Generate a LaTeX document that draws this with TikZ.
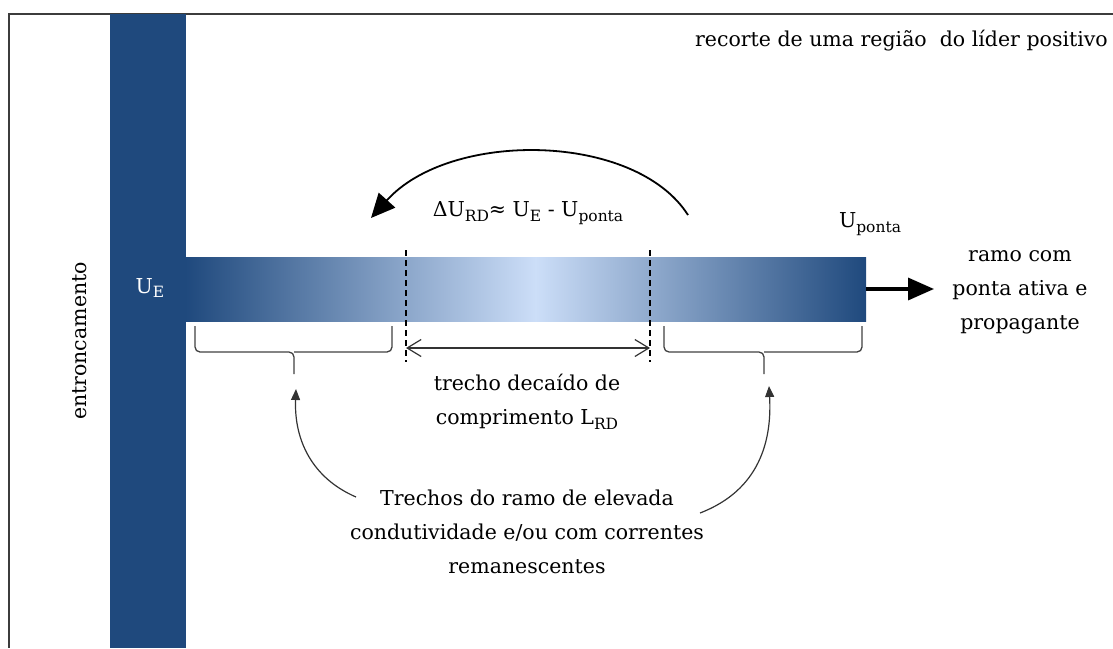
\documentclass[tikz,border=0pt]{standalone}
\usepackage{fontspec}
\setmainfont{DejaVu Serif}
\usetikzlibrary{arrows.meta}
\definecolor{dkblue}{RGB}{31,73,125}
\definecolor{ltblue}{RGB}{204,222,248}
\definecolor{framegray}{RGB}{60,60,60}
\newcommand\sbs[1]{\raisebox{-0.45ex}{\fontsize{15.5}{15.5}\selectfont #1}}
\tikzset{
  txt/.style={font=\fontsize{20.5}{34}\selectfont, inner sep=0pt, align=center},
  brc/.style={line width=1.3pt, black!75, rounded corners=5pt},
  dsh/.style={line width=1.3pt, dash pattern=on 6pt off 4pt},
  thin arrow/.style={line width=1.2pt, black!80, -{Triangle[length=11pt,width=9pt]}},
}
\begin{document}
\begin{tikzpicture}[x=1pt,y=-1pt]
\useasboundingbox (0,0) rectangle (1113,648);
% frame
\draw[line width=2.4pt, framegray] (1113,14) -- (9,14) -- (9,648);
% trunk
\fill[dkblue] (110,14) rectangle (186,648);
% branch
\shade[left color=dkblue, right color=ltblue] (185.5,257) rectangle (536,321);
\shade[left color=ltblue, right color=dkblue] (535.5,257) rectangle (866,321);
\coordinate (tip) at (866,289);
\coordinate (tipend) at (934,289);
\draw[line width=3.5pt, -{Triangle[length=26pt,width=22pt]}] (tip) -- (tipend);
% texts
\node[txt, anchor=base east] (title) at (1108,46) {recorte de uma região~ do líder positivo};
\node[txt, white] (ue) at (150,288) {U\sbs{E}};
\node[txt] (up) at (870,224) {U\sbs{ponta}};
\node[txt] (ramo) at (1020,292) {ramo com\\ponta ativa e\\propagante};
\node[txt, rotate=90] (entr) at (80,341) {entroncamento};
\node[txt] (delta) at (528,213) {ΔU\sbs{RD}≈ U\sbs{E} - U\sbs{ponta}};
\node[txt] (trecho) at (527,402) {trecho decaído de\\comprimento L\sbs{RD}};
\node[txt] (trechos) at (527,532) {Trechos do ramo de elevada\\condutividade e/ou com correntes\\remanescentes};
% dashed lines
\coordinate (d1t) at (406,250); \coordinate (d1b) at (406,362);
\coordinate (d2t) at (650,250); \coordinate (d2b) at (650,362);
\draw[dsh] (d1t) -- (d1b);
\draw[dsh] (d2t) -- (d2b);
\draw[line width=1.2pt, black!80, {Straight Barb[length=14pt,width=17pt]}-{Straight Barb[length=14pt,width=17pt]}] (406,348) -- (650,348);
% braces
\coordinate (b1) at (294,374);
\coordinate (b2) at (764,374);
\draw[brc] (195,326) |- (294,352) -- (b1);
\draw[brc] (294,352) -| (392,326);
\draw[brc] (664,326) |- (764,352) -- (b2);
\draw[brc] (764,352) -| (862,326);
% big arc
\coordinate (a1) at (688,215);
\coordinate (a2) at (371,218);
\draw[line width=1.8pt, -{Triangle[length=24pt,width=22pt]}] (a1) .. controls (635,132) and (450,130) .. (a2);
% curved arrows
\coordinate (l1) at (356,497);
\coordinate (l2) at (296,389);
\coordinate (r1) at (700,513);
\coordinate (r2) at (769,386);
\draw[thin arrow] (l1) .. controls (312,478) and (294,440) .. (l2);
\draw[thin arrow] (r1) .. controls (760,490) and (772,440) .. (r2);
\end{tikzpicture}
\end{document}
